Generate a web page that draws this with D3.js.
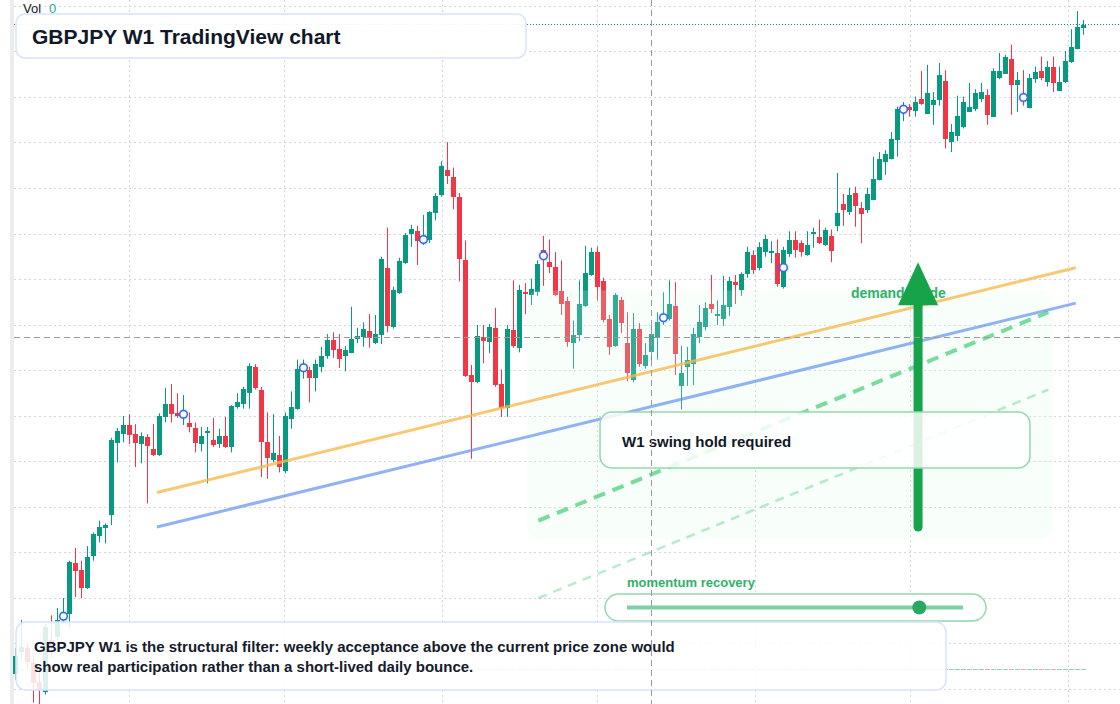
<!DOCTYPE html>
<html><head><meta charset="utf-8">
<script src="https://cdn.jsdelivr.net/npm/d3@7"></script>
<style>
html,body{margin:0;padding:0;background:#fff;}
svg{display:block;font-family:"Liberation Sans",Arial,sans-serif;}
</style>
</head><body>
<svg id="chart" width="1120" height="704"></svg>
<script>
// ---- data (GBPJPY weekly) ----
const startDate = "2020-08-21";
const open = [
126.6,129.0,129.5,127.9,125.8,124.7,130.4,130.7,132.6,133.3,
138.8,138.1,136.1,139.6,141.8,142.7,144.2,152.0,153.0,154.0,
153.0,151.9,152.7,151.4,150.7,154.9,156.3,155.3,155.0,154.2,
153.7,151.9,153.1,152.4,151.9,152.8,151.6,155.9,156.4,157.5,
160.4,157.9,152.1,150.1,150.7,149.0,154.7,155.8,160.1,160.1,
159.2,160.4,161.5,163.3,162.4,161.5,162.0,163.5,163.7,164.3,
163.0,164.0,171.3,164.7,168.5,171.8,174.9,175.3,174.2,174.3,
177.3,179.3,182.0,181.3,179.1,172.1,159.5,158.7,163.7,163.1,
164.7,158.5,155.9,164.4,162.4,168.6,168.3,168.6,173.2,171.9,
171.4,168.7,167.6,163.0,163.9,167.1,170.5,173.0,169.8,165.7,
162.7,167.7,163.0,159.0,164.6,160.5,162.0,163.6,165.5,165.7,
167.1,158.3,160.4,160.7,163.6,164.8,167.3,166.0,165.7,166.9,
169.7,168.8,170.6,172.7,171.3,173.0,172.9,172.9,169.1,172.8,
174.3,174.0,172.7,175.0,174.7,173.8,174.8,175.9,178.3,177.4,
179.5,177.9,177.6,178.7,180.9,182.9,183.2,185.3,188.5,189.0,
188.5,189.8,188.2,189.1,189.8,191.8,185.1,185.8,186.8,188.5,
188.7,189.8,190.3,187.9,192.1,192.6,194.2,191.4,190.1,188.8,
192.0,192.9,191.7,193.4,190.7,191.7,193.8,195.3,197.7];
const high = [
129.5,132.6,130.0,128.7,127.1,132.2,133.1,133.9,135.0,139.1,
140.5,139.1,140.7,142.2,143.5,143.2,152.6,153.7,155.0,155.2,
154.1,153.2,153.0,154.1,155.3,158.1,158.5,157.5,157.3,155.4,
154.3,153.8,153.8,154.8,153.6,154.9,156.2,157.5,158.2,160.8,
160.7,158.2,155.4,155.2,152.8,155.4,157.7,161.2,161.2,160.4,
161.2,162.6,164.0,164.2,164.0,162.7,167.0,164.7,165.3,166.2,
166.1,172.5,175.7,169.2,172.4,175.1,176.0,175.9,177.1,177.5,
179.5,183.0,185.1,182.3,179.5,174.3,160.6,165.0,165.0,165.1,
166.9,160.1,165.0,169.9,169.4,169.6,170.1,172.1,174.8,174.4,
173.0,172.1,168.1,165.5,169.9,173.7,173.5,173.6,170.2,166.1,
168.5,168.1,166.4,166.3,165.2,163.0,165.2,166.4,168.6,169.9,
169.7,162.7,162.6,164.7,167.2,167.5,170.5,167.7,170.4,170.3,
170.5,170.8,173.6,173.2,174.1,174.9,174.2,174.4,173.6,175.3,
175.3,174.3,175.3,175.7,176.6,175.7,175.5,181.7,179.4,180.1,
180.2,178.5,180.1,183.5,184.0,184.2,186.2,189.0,189.5,189.3,
190.1,192.9,193.6,190.6,193.8,193.0,187.1,190.2,190.1,191.6,
190.9,191.6,190.9,193.2,194.9,194.7,195.8,192.8,193.0,192.6,
193.4,194.5,194.0,194.5,193.4,195.1,197.5,199.5,198.5];
const low = [
126.0,128.2,127.3,123.5,123.3,124.4,128.5,130.4,132.2,131.8,
135.1,135.0,136.0,139.1,141.1,141.0,143.0,149.9,152.1,151.9,
149.4,149.8,145.4,150.6,150.6,154.3,154.3,154.8,154.0,153.2,
151.0,151.1,147.6,151.6,151.5,151.5,151.0,155.8,155.8,155.8,
157.9,148.3,148.1,149.9,148.8,148.7,153.6,155.7,159.1,156.5,
157.7,159.8,161.3,161.4,160.3,159.9,161.9,163.0,162.6,162.5,
162.9,162.9,164.2,164.6,168.4,171.7,173.6,171.6,173.8,174.0,
176.5,179.1,180.5,177.7,169.8,159.3,150.3,158.6,160.8,161.9,
158.2,154.9,154.9,162.5,162.0,166.2,167.2,168.2,169.3,170.7,
168.2,166.1,162.6,160.2,163.2,167.0,170.4,167.7,165.3,161.7,
162.6,164.1,158.8,158.7,160.4,160.2,161.0,161.2,165.0,165.5,
159.5,155.7,158.3,158.4,163.0,164.4,166.3,165.0,164.9,166.0,
167.3,168.2,170.2,170.6,171.0,172.5,171.8,169.2,169.0,172.5,
172.4,172.5,172.6,173.5,173.9,173.7,171.9,175.3,175.9,177.1,
175.8,174.0,177.3,178.7,180.9,181.5,183.2,183.5,187.4,187.9,
187.9,189.2,188.2,187.0,189.1,184.4,184.0,185.2,186.6,188.5,
188.5,189.5,187.0,187.9,192.0,192.6,188.1,188.4,189.1,188.8,
191.6,191.9,191.2,190.6,190.7,191.6,193.8,195.3,196.9];
const close = [
128.6,129.6,128.0,125.7,124.9,131.8,129.6,132.6,133.2,139.0,
137.9,136.1,139.5,142.0,142.8,143.0,152.4,153.3,154.0,152.9,
152.0,152.8,151.7,150.7,155.0,156.3,155.2,155.0,155.3,153.8,
152.0,152.8,153.3,151.8,152.8,151.6,156.1,156.5,158.0,160.5,
158.1,152.2,150.3,150.9,149.4,155.0,156.0,160.2,160.4,159.2,
160.7,161.6,163.3,162.2,161.3,162.2,163.5,163.8,164.6,163.5,
164.0,172.3,164.9,168.8,172.0,174.9,175.5,174.2,174.7,177.4,
179.2,182.5,181.3,179.1,172.3,159.4,158.7,163.8,163.3,164.8,
158.4,155.9,164.6,162.6,168.8,168.4,169.0,171.7,172.9,171.4,
168.3,167.3,163.1,163.9,167.3,170.7,173.0,169.1,165.5,162.6,
168.3,165.2,159.7,164.6,160.8,161.7,164.0,165.3,166.0,167.3,
161.8,159.7,161.2,164.0,165.3,166.9,166.8,166.2,167.2,169.8,
169.4,170.6,173.0,171.0,173.6,174.4,173.1,169.5,173.2,174.3,
173.2,173.0,173.8,175.2,174.0,175.4,173.2,177.3,177.6,179.3,
178.1,177.2,179.4,181.0,183.2,183.8,185.4,188.7,188.8,188.7,
189.5,189.2,190.5,189.7,192.5,185.4,186.2,188.0,189.5,189.0,
190.5,190.6,188.1,192.9,192.9,194.5,191.3,191.9,189.7,192.1,
192.8,192.1,193.4,191.6,191.7,194.0,195.5,197.7,198.0];

const markerIndex = [8, 28, 48, 68, 88, 108, 128, 148, 168];
const markerPrice = [133.0, 155.2, 160.3, 174.4, 172.6, 165.8, 171.3, 188.7, 190.0];

const trendDates = ["2021-02-02", "2024-01-10"];
const upperTrend = [146.6, 171.3];
const lowerTrend = [142.8, 167.4];
const projDates = ["2022-04-23", "2023-12-09"];
const projMain = [143.5, 166.4];
const projFaint = [135.0, 157.9];
const zoneDates = ["2022-04-10", "2023-12-14"];
const zonePrices = [141.4, 168.8];
const arrowDate = "2023-07-10";
const arrowPrices = [142.8, 171.9];
const crossIndex = 106;
const crossPrice = 163.6;
const momentumValue = 0.87;

const titleText = "GBPJPY W1 TradingView chart";
const noteLines = ["GBPJPY W1 is the structural filter: weekly acceptance above the current price zone would",
                   "show real participation rather than a short-lived daily bounce."];
const swingText = "W1 swing hold required";
const zoneLabel = "demand guide";
const momentumLabel = "momentum recovery";

// ---- chart ----
const UP = "#089981", DOWN = "#f23645";
const svg = d3.select("#chart");
const parse = d3.utcParse("%Y-%m-%d");
const t0 = parse(startDate);
const n = open.length;
const dates = d3.range(n).map(i => d3.utcDay.offset(t0, 7 * i));
const x = d3.scaleUtc().domain([dates[0], dates[n - 1]]).range([15.5, 15.5 + 6 * (n - 1)]);
const y = d3.scaleLinear().domain([125, 200]).range([689, 6.5]);
const crisp = v => Math.round(v - 0.5) + 0.5;

// left strip
svg.append("rect").attr("x", 10).attr("y", 0).attr("width", 4).attr("height", 704).attr("fill", "#ececec");

// grid
const grid = svg.append("g").attr("stroke", "#d3d6db").attr("stroke-dasharray", "2,3").attr("stroke-width", 1);
grid.selectAll("line.h").data(y.ticks(15)).join("line").attr("class", "h")
  .attr("x1", 14).attr("x2", 1120).attr("y1", d => crisp(y(d))).attr("y2", d => crisp(y(d)));
grid.selectAll("line.v").data(x.ticks(d3.utcMonth.every(6))).join("line").attr("class", "v")
  .attr("y1", 0).attr("y2", 704).attr("x1", d => crisp(x(d))).attr("x2", d => crisp(x(d)));

// zero-volume baseline ticks
svg.append("g").selectAll("rect").data(d3.range(n)).join("rect")
  .attr("x", i => x(dates[i]) - 2.5).attr("y", 669).attr("width", 5).attr("height", 1)
  .attr("fill", i => close[i] >= open[i] ? UP : DOWN).attr("opacity", 0.45);

// last price line
svg.append("line").attr("x1", 14).attr("x2", 1120)
  .attr("y1", crisp(y(close[n - 1]))).attr("y2", crisp(y(close[n - 1])))
  .attr("stroke", UP).attr("stroke-dasharray", "1,2").attr("stroke-width", 1);

// candles
const cg = svg.append("g");
const idx = d3.range(n);
cg.selectAll("line.wick").data(idx).join("line").attr("class", "wick")
  .attr("x1", i => x(dates[i])).attr("x2", i => x(dates[i]))
  .attr("y1", i => y(high[i])).attr("y2", i => y(low[i]))
  .attr("stroke", i => close[i] >= open[i] ? UP : DOWN).attr("stroke-width", 1);
cg.selectAll("rect.body").data(idx).join("rect").attr("class", "body")
  .attr("x", i => x(dates[i]) - 2.5).attr("width", 5)
  .attr("y", i => Math.round(y(Math.max(open[i], close[i]))))
  .attr("height", i => Math.max(1, Math.round(Math.abs(y(open[i]) - y(close[i])))))
  .attr("fill", i => close[i] >= open[i] ? UP : DOWN);

// demand zone overlay
const zx0 = x(parse(zoneDates[0])), zx1 = x(parse(zoneDates[1]));
svg.append("rect").attr("x", zx0).attr("y", y(zonePrices[1]))
  .attr("width", zx1 - zx0).attr("height", y(zonePrices[0]) - y(zonePrices[1]))
  .attr("rx", 12).attr("fill", "#dcfce7").attr("opacity", 0.2);

// markers
const mg = svg.append("g");
markerIndex.forEach((mi, k) => {
  const cx = x(dates[mi]), cy = y(markerPrice[k]);
  mg.append("circle").attr("cx", cx).attr("cy", cy).attr("r", 6).attr("fill", "#2962ff").attr("opacity", 0.13);
  mg.append("circle").attr("cx", cx).attr("cy", cy).attr("r", 3.8).attr("fill", "#fff")
    .attr("stroke", "#2f66f0").attr("stroke-width", 1.5);
});

// trendlines
const lineGen = d3.line().x(d => x(d[0])).y(d => y(d[1]));
const tD = trendDates.map(parse), pD = projDates.map(parse);
svg.append("path").attr("d", lineGen(tD.map((d, k) => [d, upperTrend[k]])))
  .attr("stroke", "#f6b94a").attr("stroke-opacity", 0.78).attr("stroke-width", 3).attr("fill", "none");
svg.append("path").attr("d", lineGen(tD.map((d, k) => [d, lowerTrend[k]])))
  .attr("stroke", "#5b8def").attr("stroke-opacity", 0.68).attr("stroke-width", 3).attr("fill", "none");
svg.append("path").attr("d", lineGen(pD.map((d, k) => [d, projMain[k]])))
  .attr("stroke", "#22c55e").attr("stroke-opacity", 0.6).attr("stroke-width", 4)
  .attr("stroke-dasharray", "12,8").attr("fill", "none");
svg.append("path").attr("d", lineGen(pD.map((d, k) => [d, projFaint[k]])))
  .attr("stroke", "#22c55e").attr("stroke-opacity", 0.32).attr("stroke-width", 2.5)
  .attr("stroke-dasharray", "9,7").attr("fill", "none");

// demand label
svg.append("text").attr("x", 851).attr("y", 298).text(zoneLabel)
  .attr("font-size", 14).attr("font-weight", "bold").attr("fill", "#2fb268");

// arrow
const ax = x(parse(arrowDate)), ay0 = y(arrowPrices[0]), ay1 = y(arrowPrices[1]);
const headLen = 43, headHalf = 20;
svg.append("line").attr("x1", ax).attr("x2", ax).attr("y1", ay0).attr("y2", ay1 + headLen - 1)
  .attr("stroke", "#16a34a").attr("stroke-width", 9).attr("stroke-linecap", "round");
svg.append("path").attr("d", `M${ax},${ay1} L${ax + headHalf},${ay1 + headLen} L${ax - headHalf},${ay1 + headLen} Z`)
  .attr("fill", "#16a34a");

// W1 swing box
svg.append("rect").attr("x", 600).attr("y", 412).attr("width", 430).attr("height", 56).attr("rx", 12)
  .attr("fill", "#fff").attr("fill-opacity", 0.84).attr("stroke", "#93d9ac").attr("stroke-width", 1.5);
svg.append("text").attr("x", 622).attr("y", 447).text(swingText)
  .attr("font-size", 15).attr("font-weight", "bold").attr("fill", "#111827");

// momentum widget
svg.append("text").attr("x", 627).attr("y", 587).text(momentumLabel)
  .attr("font-size", 13).attr("font-weight", "bold").attr("fill", "#2fb268");
svg.append("rect").attr("x", 605).attr("y", 594).attr("width", 381).attr("height", 27).attr("rx", 13.5)
  .attr("fill", "#fff").attr("stroke", "#93d9ac").attr("stroke-width", 1.5);
const m = d3.scaleLinear().domain([0, 1]).range([627, 963]);
svg.append("line").attr("x1", m(0)).attr("x2", m(1)).attr("y1", 607.5).attr("y2", 607.5)
  .attr("stroke", "#7fd0a0").attr("stroke-width", 4);
svg.append("circle").attr("cx", m(momentumValue)).attr("cy", 607.5).attr("r", 7).attr("fill", "#2aa862");

// title box
svg.append("rect").attr("x", 16).attr("y", 14).attr("width", 510).attr("height", 44).attr("rx", 9)
  .attr("fill", "#fff").attr("fill-opacity", 0.92).attr("stroke", "#d6e4fb").attr("stroke-width", 1.5);
svg.append("text").attr("x", 32).attr("y", 43.5).text(titleText)
  .attr("font-size", 21).attr("font-weight", "bold").attr("fill", "#111827");

// bottom note box
svg.append("rect").attr("x", 16).attr("y", 622).attr("width", 930).attr("height", 68).attr("rx", 10)
  .attr("fill", "#fff").attr("fill-opacity", 0.86).attr("stroke", "#d6e4fb").attr("stroke-width", 1.5);
svg.append("g").selectAll("text").data(noteLines).join("text")
  .attr("x", 34).attr("y", (d, k) => 652 + k * 20).text(d => d)
  .attr("font-size", 15).attr("font-weight", "bold").attr("fill", "#151b2c");

// Vol label
const vol = svg.append("text").attr("x", 23).attr("y", 13).attr("font-size", 13).attr("fill", "#131722");
vol.append("tspan").text("Vol");
vol.append("tspan").attr("x", 49).attr("fill", "#22ab94").text("0");

// crosshair
const ch = svg.append("g").attr("stroke", "#9a9a9a").attr("stroke-dasharray", "6,4").attr("stroke-width", 1);
ch.append("line").attr("x1", crisp(x(dates[crossIndex]))).attr("x2", crisp(x(dates[crossIndex])))
  .attr("y1", 0).attr("y2", 704);
ch.append("line").attr("x1", 14).attr("x2", 1120).attr("y1", crisp(y(crossPrice))).attr("y2", crisp(y(crossPrice)));
</script>
</body></html>
